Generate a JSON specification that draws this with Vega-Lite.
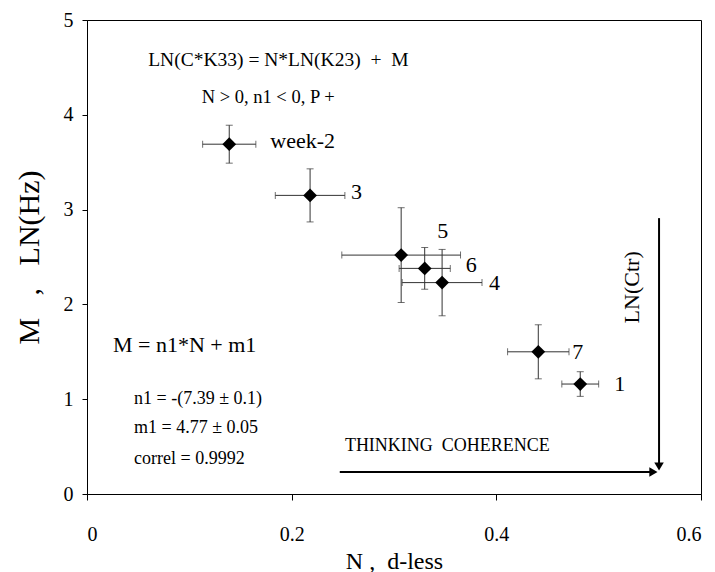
{
  "$schema": "https://vega.github.io/schema/vega-lite/v6.json",
  "width": 614,
  "height": 474,
  "autosize": "none",
  "padding": {"left": 87, "top": 20, "right": 14, "bottom": 78},
  "background": "white",
  "config": {
    "font": "Liberation Serif",
    "view": {"stroke": "black", "strokeWidth": 1},
    "axis": {
      "grid": false,
      "domainColor": "black",
      "tickColor": "black",
      "labelColor": "black",
      "titleColor": "black",
      "labelFont": "Liberation Serif",
      "titleFont": "Liberation Serif",
      "titleFontWeight": "normal",
      "labelFontSize": 20
    }
  },
  "datasets": {
    "points": [
      {"week": "week-2", "N": 0.139, "M": 3.69, "Nerr": 0.026, "Merr": 0.2},
      {"week": "3", "N": 0.218, "M": 3.15, "Nerr": 0.034, "Merr": 0.28},
      {"week": "5", "N": 0.307, "M": 2.52, "Nerr": 0.058, "Merr": 0.5},
      {"week": "6", "N": 0.330, "M": 2.38, "Nerr": 0.025, "Merr": 0.22},
      {"week": "4", "N": 0.347, "M": 2.23, "Nerr": 0.039, "Merr": 0.35},
      {"week": "7", "N": 0.441, "M": 1.5, "Nerr": 0.03, "Merr": 0.285},
      {"week": "1", "N": 0.482, "M": 1.16, "Nerr": 0.018, "Merr": 0.13}
    ],
    "one": [{"k": 1}]
  },
  "layer": [
    {
      "data": {"name": "points"},
      "mark": {"type": "errorbar", "color": "#333", "thickness": 1, "ticks": {"size": 7, "color": "#333"}},
      "encoding": {
        "x": {
          "field": "N", "type": "quantitative", "title": "N\u00a0,\u00a0\u00a0d-less",
          "scale": {"domain": [0, 0.6], "nice": false},
          "axis": {
            "values": [0, 0.2, 0.4, 0.6], "format": "~g",
            "labelFont": "Liberation Serif", "titleFont": "Liberation Serif",
            "tickSize": 6, "labelPadding": 24, "titleFontSize": 24,
            "titleY": 74, "titleBaseline": "alphabetic"
          }
        },
        "y": {
          "field": "M", "type": "quantitative", "title": "M\u00a0\u00a0\u00a0,\u00a0\u00a0\u00a0LN(Hz)",
          "scale": {"domain": [0, 5], "nice": false},
          "axis": {
            "values": [0, 1, 2, 3, 4, 5], "format": "d",
            "labelFont": "Liberation Serif", "titleFont": "Liberation Serif",
            "tickSize": 5, "labelPadding": 9, "titleFontSize": 30,
            "titleX": -58, "titleY": 237, "titleAngle": -90,
            "titleAlign": "center", "titleBaseline": "middle"
          }
        },
        "xError": {"field": "Nerr"}
      }
    },
    {
      "data": {"name": "points"},
      "mark": {"type": "errorbar", "color": "#333", "thickness": 1, "ticks": {"size": 7, "color": "#333"}},
      "encoding": {
        "x": {"field": "N", "type": "quantitative", "title": "N\u00a0,\u00a0\u00a0d-less"},
        "y": {"field": "M", "type": "quantitative", "title": "M\u00a0\u00a0\u00a0,\u00a0\u00a0\u00a0LN(Hz)"},
        "yError": {"field": "Merr"}
      }
    },
    {
      "data": {"name": "points"},
      "mark": {"type": "point", "shape": "diamond", "filled": true, "color": "black", "size": 190, "opacity": 1},
      "encoding": {
        "x": {"field": "N", "type": "quantitative", "title": "N\u00a0,\u00a0\u00a0d-less"},
        "y": {"field": "M", "type": "quantitative", "title": "M\u00a0\u00a0\u00a0,\u00a0\u00a0\u00a0LN(Hz)"}
      }
    },
    {
      "data": {"name": "points"},
      "transform": [{"filter": {"field": "week", "oneOf": ["week-2", "3", "6"]}}],
      "mark": {"type": "text", "font": "Liberation Serif", "color": "black", "align": "left", "baseline": "middle", "dx": 41, "dy": -3, "fontSize": 22},
      "encoding": {
        "x": {"field": "N", "type": "quantitative", "title": "N\u00a0,\u00a0\u00a0d-less"},
        "y": {"field": "M", "type": "quantitative", "title": "M\u00a0\u00a0\u00a0,\u00a0\u00a0\u00a0LN(Hz)"},
        "text": {"field": "week"}
      }
    },
    {
      "data": {"name": "points"},
      "transform": [{"filter": {"field": "week", "oneOf": ["4"]}}],
      "mark": {"type": "text", "font": "Liberation Serif", "color": "black", "align": "left", "baseline": "middle", "dx": 47, "dy": 0, "fontSize": 22},
      "encoding": {
        "x": {"field": "N", "type": "quantitative", "title": "N\u00a0,\u00a0\u00a0d-less"},
        "y": {"field": "M", "type": "quantitative", "title": "M\u00a0\u00a0\u00a0,\u00a0\u00a0\u00a0LN(Hz)"},
        "text": {"field": "week"}
      }
    },
    {
      "data": {"name": "points"},
      "transform": [{"filter": {"field": "week", "oneOf": ["7", "1"]}}],
      "mark": {"type": "text", "font": "Liberation Serif", "color": "black", "align": "left", "baseline": "middle", "dx": 34, "dy": 0, "fontSize": 22},
      "encoding": {
        "x": {"field": "N", "type": "quantitative", "title": "N\u00a0,\u00a0\u00a0d-less"},
        "y": {"field": "M", "type": "quantitative", "title": "M\u00a0\u00a0\u00a0,\u00a0\u00a0\u00a0LN(Hz)"},
        "text": {"field": "week"}
      }
    },
    {
      "data": {"name": "points"},
      "transform": [{"filter": {"field": "week", "oneOf": ["5"]}}],
      "mark": {"type": "text", "font": "Liberation Serif", "color": "black", "align": "left", "baseline": "middle", "dx": 36, "dy": -24, "fontSize": 22},
      "encoding": {
        "x": {"field": "N", "type": "quantitative", "title": "N\u00a0,\u00a0\u00a0d-less"},
        "y": {"field": "M", "type": "quantitative", "title": "M\u00a0\u00a0\u00a0,\u00a0\u00a0\u00a0LN(Hz)"},
        "text": {"field": "week"}
      }
    },
    {
      "data": {"name": "one"},
      "mark": {"type": "rule", "color": "black", "strokeWidth": 2},
      "encoding": {"x": {"datum": 0.247}, "x2": {"datum": 0.552}, "y": {"datum": 0.232}}
    },
    {
      "data": {"name": "one"},
      "mark": {"type": "point", "shape": "triangle-right", "filled": true, "color": "black", "size": 90, "opacity": 1},
      "encoding": {"x": {"datum": 0.5535}, "y": {"datum": 0.232}}
    },
    {
      "data": {"name": "one"},
      "mark": {"type": "rule", "color": "black", "strokeWidth": 2},
      "encoding": {"x": {"datum": 0.559}, "y": {"datum": 2.91}, "y2": {"datum": 0.3}}
    },
    {
      "data": {"name": "one"},
      "mark": {"type": "point", "shape": "triangle-down", "filled": true, "color": "black", "size": 90, "opacity": 1},
      "encoding": {"x": {"datum": 0.559}, "y": {"datum": 0.29}}
    },
    {
      "data": {"name": "one"},
      "mark": {"type": "text", "font": "Liberation Serif", "color": "black", "align": "center", "baseline": "middle", "fontSize": 19.5, "text": "LN(C*K33) = N*LN(K23)\u00a0\u00a0+\u00a0\u00a0M"},
      "encoding": {"x": {"datum": 0.187}, "y": {"datum": 4.58}}
    },
    {
      "data": {"name": "one"},
      "mark": {"type": "text", "font": "Liberation Serif", "color": "black", "align": "center", "baseline": "middle", "fontSize": 18.5, "text": "N > 0, n1 < 0, P +"},
      "encoding": {"x": {"datum": 0.177}, "y": {"datum": 4.19}}
    },
    {
      "data": {"name": "one"},
      "mark": {"type": "text", "font": "Liberation Serif", "color": "black", "align": "left", "baseline": "middle", "fontSize": 22, "text": "M = n1*N + m1"},
      "encoding": {"x": {"datum": 0.0254}, "y": {"datum": 1.57}}
    },
    {
      "data": {"name": "one"},
      "mark": {"type": "text", "font": "Liberation Serif", "color": "black", "align": "left", "baseline": "middle", "fontSize": 18, "text": "n1 = -(7.39 ± 0.1)"},
      "encoding": {"x": {"datum": 0.046}, "y": {"datum": 1.0}}
    },
    {
      "data": {"name": "one"},
      "mark": {"type": "text", "font": "Liberation Serif", "color": "black", "align": "left", "baseline": "middle", "fontSize": 18, "text": "m1 = 4.77 ± 0.05"},
      "encoding": {"x": {"datum": 0.046}, "y": {"datum": 0.696}}
    },
    {
      "data": {"name": "one"},
      "mark": {"type": "text", "font": "Liberation Serif", "color": "black", "align": "left", "baseline": "middle", "fontSize": 18, "text": "correl = 0.9992"},
      "encoding": {"x": {"datum": 0.046}, "y": {"datum": 0.369}}
    },
    {
      "data": {"name": "one"},
      "mark": {"type": "text", "font": "Liberation Serif", "color": "black", "align": "left", "baseline": "middle", "fontSize": 18, "text": "THINKING\u00a0\u00a0COHERENCE"},
      "encoding": {"x": {"datum": 0.252}, "y": {"datum": 0.506}}
    },
    {
      "data": {"name": "one"},
      "mark": {"type": "text", "font": "Liberation Serif", "color": "black", "align": "center", "baseline": "middle", "fontSize": 22, "angle": 270, "text": "LN(Ctr)"},
      "encoding": {"x": {"datum": 0.533}, "y": {"datum": 2.18}}
    }
  ]
}
